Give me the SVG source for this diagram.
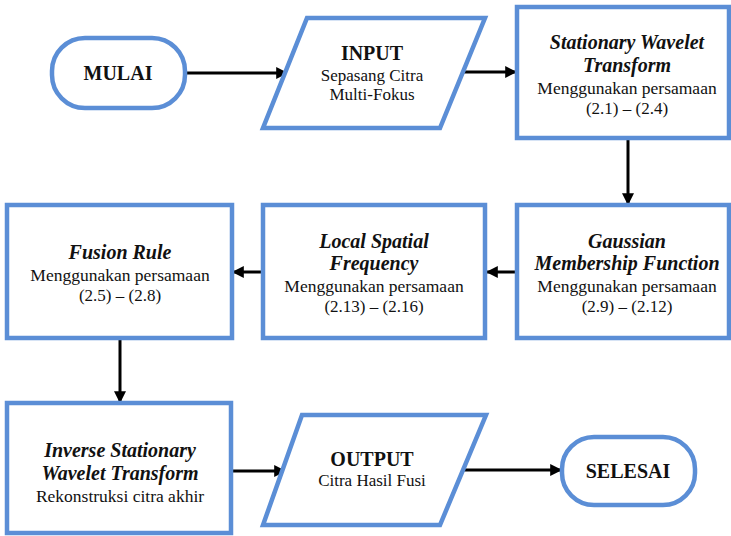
<svg xmlns="http://www.w3.org/2000/svg" width="731" height="536" viewBox="0 0 731 536">
<defs>
<marker id="ah" viewBox="0 0 10 10" refX="9" refY="5" markerWidth="4.2" markerHeight="4" orient="auto" markerUnits="strokeWidth">
<path d="M0,0 L10,5 L0,10 z" fill="#000"/>
</marker>
<style>
.shape{fill:#fff;stroke:#5B8ED6;stroke-width:4.5;stroke-linejoin:miter}
.c{stroke:#000;stroke-width:3;fill:none;marker-end:url(#ah)}
</style>
</defs>
<rect width="731" height="536" fill="#fff"/>
<g id="connectors">
<line class="c" x1="186" y1="73" x2="287" y2="73"/>
<line class="c" x1="462" y1="72" x2="516" y2="72"/>
<line class="c" x1="628" y1="139" x2="628" y2="204"/>
<line class="c" x1="517" y1="272" x2="487" y2="272"/>
<line class="c" x1="263" y1="272" x2="233" y2="272"/>
<line class="c" x1="120" y1="339" x2="120" y2="402"/>
<line class="c" x1="232" y1="471" x2="285" y2="471"/>
<line class="c" x1="462" y1="470" x2="561" y2="470"/>
</g>
<g id="mulai">
<rect class="shape" x="52" y="38" width="133" height="70" rx="33"/>
<text x="118" y="80" font-family="Liberation Serif" font-size="20" font-weight="bold" text-anchor="middle" fill="#111">MULAI</text>
</g>
<g id="input">
<polygon class="shape" points="307,18 485,18 440,128 263,128"/>
<text x="372" y="60" font-family="Liberation Serif" font-size="20" font-weight="bold" text-anchor="middle" fill="#111">INPUT</text>
<text x="372" y="81" font-family="Liberation Serif" font-size="17" text-anchor="middle" fill="#111">Sepasang Citra</text>
<text x="372" y="100" font-family="Liberation Serif" font-size="17" text-anchor="middle" fill="#111">Multi-Fokus</text>
</g>
<g id="swt">
<rect class="shape" x="517" y="7" width="212" height="131"/>
<text x="627" y="49" font-family="Liberation Serif" font-size="20" font-weight="bold" font-style="italic" text-anchor="middle" fill="#111">Stationary Wavelet</text>
<text x="627" y="72" font-family="Liberation Serif" font-size="20" font-weight="bold" font-style="italic" text-anchor="middle" fill="#111">Transform</text>
<text x="627" y="94" font-family="Liberation Serif" font-size="17.5" text-anchor="middle" fill="#111">Menggunakan persamaan</text>
<text x="627" y="114" font-family="Liberation Serif" font-size="17" text-anchor="middle" fill="#111">(2.1) – (2.4)</text>
</g>
<g id="gaussian">
<rect class="shape" x="517" y="205" width="212" height="133"/>
<text x="627" y="248" font-family="Liberation Serif" font-size="20" font-weight="bold" font-style="italic" text-anchor="middle" fill="#111">Gaussian</text>
<text x="627" y="270" font-family="Liberation Serif" font-size="20" font-weight="bold" font-style="italic" text-anchor="middle" fill="#111">Membership Function</text>
<text x="627" y="292" font-family="Liberation Serif" font-size="17.5" text-anchor="middle" fill="#111">Menggunakan persamaan</text>
<text x="627" y="312" font-family="Liberation Serif" font-size="17" text-anchor="middle" fill="#111">(2.9) – (2.12)</text>
</g>
<g id="lsf">
<rect class="shape" x="263" y="205" width="222" height="133"/>
<text x="374" y="248" font-family="Liberation Serif" font-size="20" font-weight="bold" font-style="italic" text-anchor="middle" fill="#111">Local Spatial</text>
<text x="374" y="270" font-family="Liberation Serif" font-size="20" font-weight="bold" font-style="italic" text-anchor="middle" fill="#111">Frequency</text>
<text x="374" y="292" font-family="Liberation Serif" font-size="17.5" text-anchor="middle" fill="#111">Menggunakan persamaan</text>
<text x="374" y="312" font-family="Liberation Serif" font-size="17" text-anchor="middle" fill="#111">(2.13) – (2.16)</text>
</g>
<g id="fusion">
<rect class="shape" x="7" y="205" width="225" height="133"/>
<text x="120" y="259" font-family="Liberation Serif" font-size="20" font-weight="bold" font-style="italic" text-anchor="middle" fill="#111">Fusion Rule</text>
<text x="120" y="281" font-family="Liberation Serif" font-size="17.5" text-anchor="middle" fill="#111">Menggunakan persamaan</text>
<text x="120" y="301" font-family="Liberation Serif" font-size="17" text-anchor="middle" fill="#111">(2.5) – (2.8)</text>
</g>
<g id="iswt">
<rect class="shape" x="7" y="403" width="224" height="130"/>
<text x="120" y="457" font-family="Liberation Serif" font-size="20" font-weight="bold" font-style="italic" text-anchor="middle" fill="#111">Inverse Stationary</text>
<text x="120" y="480" font-family="Liberation Serif" font-size="20" font-weight="bold" font-style="italic" text-anchor="middle" fill="#111">Wavelet Transform</text>
<text x="120" y="502" font-family="Liberation Serif" font-size="17.5" text-anchor="middle" fill="#111">Rekonstruksi citra akhir</text>
</g>
<g id="output">
<polygon class="shape" points="302,415 486,415 440,525 263,525"/>
<text x="372" y="466" font-family="Liberation Serif" font-size="20" font-weight="bold" text-anchor="middle" fill="#111">OUTPUT</text>
<text x="372" y="486" font-family="Liberation Serif" font-size="17" text-anchor="middle" fill="#111">Citra Hasil Fusi</text>
</g>
<g id="selesai">
<rect class="shape" x="562" y="437" width="133" height="68" rx="32"/>
<text x="628" y="478" font-family="Liberation Serif" font-size="20" font-weight="bold" text-anchor="middle" fill="#111">SELESAI</text>
</g>
</svg>
